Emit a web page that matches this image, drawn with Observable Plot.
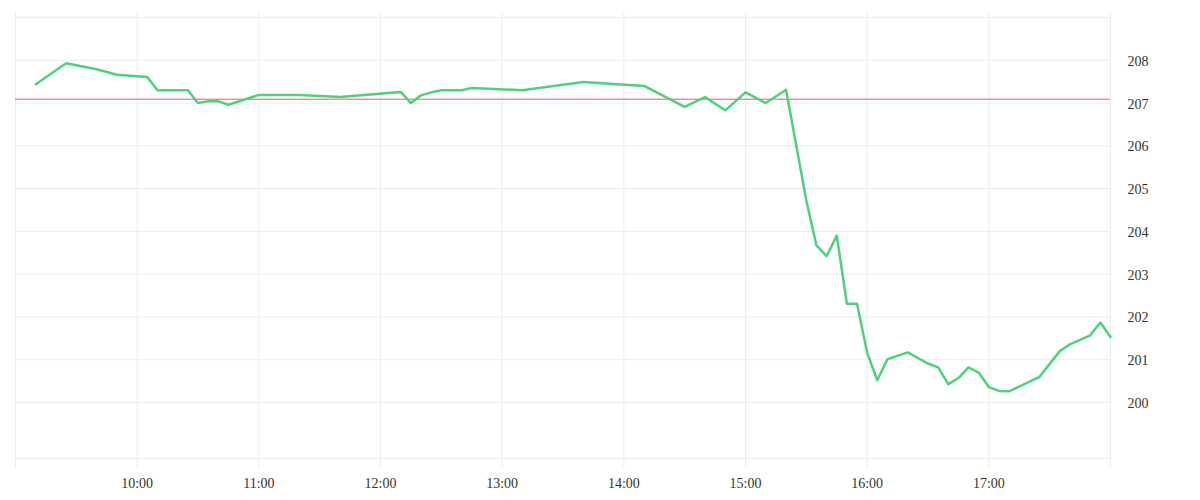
<!DOCTYPE html>
<html>
<head>
<meta charset="utf-8">
<script src="https://cdn.jsdelivr.net/npm/d3@7"></script>
<script src="https://cdn.jsdelivr.net/npm/@observablehq/plot@0.6"></script>
<style>
  html, body { margin: 0; padding: 0; background: #fff; }
  #chart svg { display: block; }
</style>
</head>
<body>
<div id="chart"></div>
<script>
// ---- data ----
const times = ["09:10","09:25","09:40","09:50","10:05","10:10","10:25","10:30","10:35","10:40","10:45","11:00","11:20","11:40","12:10","12:15","12:20","12:25","12:30","12:40","12:45","13:10","13:40","14:10","14:30","14:40","14:50","15:00","15:10","15:20","15:30","15:35","15:40","15:45","15:50","15:55","16:00","16:05","16:10","16:20","16:25","16:30","16:35","16:40","16:45","16:50","16:55","17:00","17:05","17:10","17:25","17:35","17:40","17:50","17:55","18:00"];
const prices = [207.44,207.93,207.79,207.66,207.61,207.30,207.30,207.00,207.04,207.04,206.96,207.19,207.19,207.14,207.26,207.00,207.18,207.25,207.30,207.30,207.35,207.30,207.49,207.40,206.91,207.14,206.83,207.25,207.00,207.31,204.72,203.67,203.42,203.90,202.31,202.31,201.16,200.52,201.01,201.17,201.04,200.91,200.82,200.43,200.57,200.82,200.70,200.36,200.27,200.26,200.60,201.20,201.36,201.57,201.87,201.53];
const prevClose = 207.09;
const xStart = "09:00";
const xEnd = "18:00";
const hourTicks = ["10:00","11:00","12:00","13:00","14:00","15:00","16:00","17:00"];
const yTicks = [200,201,202,203,204,205,206,207,208];
const yDomain = [198.69, 209];

const parse = s => new Date(Date.UTC(2024, 0, 2, +s.slice(0, 2), +s.slice(3, 5)));
const data = times.map((t, i) => ({time: parse(t), price: prices[i]}));

const chart = Plot.plot({
  width: 1200,
  height: 500,
  marginLeft: 15,
  marginRight: 90,
  marginTop: 17,
  marginBottom: 42,
  style: {fontFamily: "'Liberation Serif', serif", fontSize: "14px", color: "#333", background: "#fff"},
  x: {type: "utc", domain: [parse(xStart), parse(xEnd)], label: null},
  y: {domain: yDomain, label: null},
  marks: [
    Plot.ruleY([...yTicks, ...yDomain], {stroke: "#ececec", strokeWidth: 1}),
    Plot.ruleX([xStart, ...hourTicks, xEnd].map(parse), {stroke: "#ececec", strokeWidth: 1, insetTop: -5, insetBottom: -10}),
    Plot.ruleY([prevClose], {stroke: "#ff5260", strokeWidth: 1}),
    Plot.line(data, {x: "time", y: "price", stroke: "#4cd27b", strokeWidth: 2.5}),
    Plot.axisX(hourTicks.map(parse), {tickSize: 0, tickPadding: 20, label: null, tickFormat: d3.utcFormat("%H:%M")}),
    Plot.axisY(yTicks, {anchor: "right", tickSize: 0, tickPadding: 17, label: null, dy: 1})
  ]
});
document.getElementById("chart").appendChild(chart);
</script>
</body>
</html>
